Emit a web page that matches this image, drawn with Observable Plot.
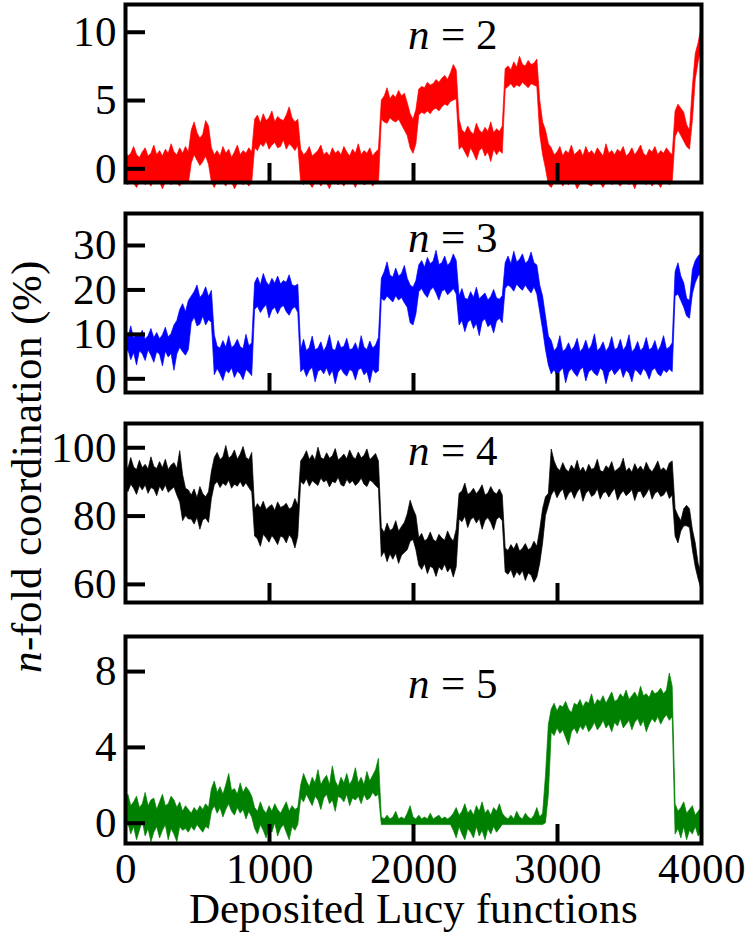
<!DOCTYPE html>
<html>
<head>
<meta charset="utf-8">
<script src="https://cdn.jsdelivr.net/npm/d3@7"></script>
<script src="https://cdn.jsdelivr.net/npm/@observablehq/plot@0.6"></script>
<style>
  @font-face { font-family: "FigSerif"; font-style: normal; font-weight: 400;
    src: local("Liberation Serif"), local("LiberationSerif"), local("Liberation Serif Regular"), local("DejaVu Serif"), local("DejaVuSerif"); }
  @font-face { font-family: "FigSerif"; font-style: italic; font-weight: 400;
    src: local("Liberation Serif Italic"), local("LiberationSerif-Italic"), local("DejaVu Serif Italic"), local("DejaVuSerif-Italic"); }
  body { margin: 0; background: #fff; }
  #chart { position: relative; width: 747px; height: 936px; overflow: hidden; }
  #chart svg { display: block; }
  #ylab { position: absolute; left: 0; top: 0; }
</style>
</head>
<body>
<div id="chart"></div>
<script>
// ---- data (envelope of the noisy trace every 20 deposited functions) ----
const xs = d3.range(0, 4001, 20);

const n2Hi = [
  1.3,0.9,1.1,1.6,1.0,0.8,1.2,1.5,0.9,1.1,1.7,1.0,1.3,0.9,1.4,1.1,1.8,1.2,1.0,1.5,1.1,1.6,1.2,
  2.8,3.4,2.6,2.2,2.5,3.5,3.1,
  1.5,1.0,1.3,0.9,1.6,1.1,1.4,0.8,1.2,1.7,1.0,1.3,1.1,1.5,1.2,
  3.6,3.9,3.3,4.0,3.5,3.7,4.2,3.4,3.8,3.6,3.5,3.9,4.5,3.7,3.4,3.6,
  1.4,1.0,1.2,1.6,0.9,1.1,1.3,1.7,1.0,1.2,0.9,1.5,1.1,1.3,1.0,1.6,1.2,0.9,1.4,1.1,1.8,1.0,1.3,1.1,1.5,0.9,1.2,1.4,
  5.0,5.3,5.9,5.1,5.4,5.2,5.7,5.3,5.5,4.8,
  4.0,3.6,4.3,
  5.8,6.0,5.9,6.3,6.1,6.2,6.5,6.3,6.6,6.8,6.5,7.0,7.6,7.2,
  3.6,2.8,2.6,3.1,2.7,2.5,3.3,2.8,2.6,3.0,2.7,3.4,2.6,2.9,2.7,3.1,
  7.3,7.5,7.2,7.8,7.4,8.2,7.6,7.5,7.9,7.6,7.7,8.0,
  5.0,3.4,2.8,1.8,
  1.5,1.0,1.2,1.6,0.9,1.3,1.1,1.7,1.0,1.2,1.4,0.9,1.6,1.1,1.3,1.0,1.5,1.2,0.9,1.8,1.1,1.3,1.0,1.4,1.2,1.6,0.9,1.1,1.5,1.0,1.3,1.7,1.1,0.9,1.4,1.2,1.6,1.0,1.3,1.1,1.5,1.2,1.0,
  4.2,4.7,4.4,4.1,
  3.2,2.8,
  6.0,8.4,9.2,10.3];
const n2Lo = [
  -1.0,-1.2,-0.9,-1.1,-1.4,-1.0,-0.9,-1.2,-1.0,-1.3,-0.9,-1.1,-1.0,-1.5,-1.0,-0.9,-1.2,-1.0,-1.1,-1.3,-0.9,-1.0,-1.1,
  0.4,1.0,0.6,0.2,0.5,0.9,0.3,
  -1.0,-1.4,-0.9,-1.1,-1.0,-1.3,-0.9,-1.0,-1.5,-1.1,-0.9,-1.2,-1.0,-1.3,-1.0,
  1.5,1.3,1.8,1.6,2.0,1.4,1.7,1.9,1.5,1.6,2.1,1.4,1.8,1.6,1.3,1.7,
  -1.0,-1.2,-0.9,-1.1,-1.4,-1.0,-0.9,-1.3,-1.0,-1.1,-1.5,-0.9,-1.0,-1.2,-1.0,-1.3,-0.9,-1.1,-1.0,-1.4,-0.9,-1.0,-1.2,-1.1,-0.9,-1.3,-1.0,-1.1,
  3.6,3.4,3.3,3.7,3.5,3.4,3.6,3.2,2.8,2.4,
  1.5,1.1,1.8,
  3.9,4.1,4.0,4.2,4.0,4.3,4.4,4.2,4.5,4.7,4.6,4.9,5.0,5.1,
  1.4,1.6,1.2,0.8,1.5,1.1,0.6,1.3,1.5,0.9,1.2,0.5,1.4,1.0,1.3,1.1,
  5.8,6.0,6.2,5.9,6.1,6.0,6.3,6.1,5.9,6.2,6.1,6.0,
  2.5,1.0,0.0,-1.2,
  -1.4,-1.0,-1.1,-0.9,-1.3,-1.0,-1.2,-0.9,-1.0,-1.5,-1.1,-0.9,-1.0,-1.2,-1.3,-0.9,-1.0,-1.1,-1.4,-1.0,-0.9,-1.2,-1.0,-1.1,-1.3,-0.9,-1.0,-1.2,-1.0,-1.5,-0.9,-1.1,-1.0,-1.2,-0.9,-1.3,-1.0,-1.1,-1.4,-0.9,-1.0,-1.2,-1.0,
  2.3,2.8,2.4,2.0,
  1.6,1.4,
  3.5,6.5,7.8,8.8];

const n3Hi = [
  10.5,9.2,11.8,9.0,10.0,9.4,10.8,8.8,9.6,11.2,9.1,10.3,8.9,9.8,11.5,9.3,10.1,12.0,
  13.0,15.5,16.8,15.0,17.5,
  18.5,19.5,21.0,18.2,19.0,20.6,18.4,19.8,
  9.8,7.2,6.8,8.5,7.0,9.6,6.9,7.5,8.8,7.1,6.7,9.9,7.3,8.0,
  21.5,22.8,21.0,23.6,21.8,20.9,22.5,21.4,23.0,21.2,22.0,21.6,23.3,21.0,20.8,21.2,
  6.5,8.8,6.2,7.0,9.5,6.4,6.8,8.2,6.1,7.4,9.8,6.6,6.3,8.5,6.9,7.2,9.0,6.4,6.7,8.0,6.2,9.6,7.0,6.5,8.4,6.8,7.5,9.2,
  22.5,24.0,26.2,23.2,22.8,24.8,23.0,23.6,25.4,22.5,
  21.0,20.5,22.0,
  25.5,26.5,25.0,27.2,25.8,26.4,28.8,25.6,26.0,27.5,25.4,26.2,28.0,26.5,
  18.5,20.2,18.0,17.8,19.5,18.2,20.5,17.9,18.6,19.2,17.6,18.4,20.0,18.1,17.8,18.6,
  26.0,27.5,25.8,28.6,26.2,26.8,28.0,25.9,26.5,28.4,26.0,25.5,
  21.0,18.5,14.0,9.5,
  8.5,6.2,7.0,9.6,6.1,6.6,8.0,6.3,7.2,9.0,6.0,6.8,8.6,6.4,7.5,10.0,6.2,6.9,8.2,6.1,7.1,9.4,6.5,6.8,8.8,6.3,7.3,9.8,6.0,6.7,8.3,6.2,7.0,9.2,6.4,6.9,8.5,6.1,7.4,9.6,6.6,7.0,8.0,
  24.0,26.0,23.0,21.5,
  18.0,17.5,
  24.5,26.5,27.5,28.2];
const n3Lo = [
  5.0,6.5,4.2,5.8,3.0,6.2,5.5,4.0,6.4,5.2,3.6,6.0,5.4,2.8,6.1,4.8,5.6,1.8,
  5.5,7.0,6.0,5.2,6.5,
  12.5,13.8,11.8,12.2,14.0,12.0,13.2,12.6,
  0.8,2.2,1.0,-0.5,1.8,1.2,2.4,0.2,1.6,1.0,-0.3,2.0,1.4,0.6,
  15.5,16.2,14.8,15.8,16.6,13.6,15.4,16.0,14.5,15.9,16.4,15.0,14.2,15.6,16.1,14.8,
  1.5,2.2,0.4,1.8,2.5,-0.8,1.6,2.0,1.0,2.4,0.6,1.8,-1.2,1.4,2.2,1.1,0.5,2.0,1.6,-0.4,1.9,2.3,0.8,1.5,-1.0,2.1,1.2,1.7,
  18.0,17.5,18.5,17.8,17.2,18.6,17.6,18.2,17.0,16.0,
  12.5,12.0,14.5,
  19.5,20.2,19.0,18.2,19.8,20.5,19.2,17.6,19.6,20.0,18.8,19.4,20.2,19.0,
  12.0,13.0,10.5,12.6,13.2,11.2,12.4,9.6,12.8,13.4,11.6,12.2,10.2,12.9,13.5,12.5,
  20.2,21.0,20.5,19.6,21.2,20.4,19.8,21.0,20.0,19.2,20.6,19.0,
  15.0,11.0,6.5,3.0,
  1.0,2.0,0.5,1.6,2.4,-1.0,1.4,2.2,1.2,0.4,1.9,2.5,-0.6,1.5,2.0,1.1,0.6,2.3,1.7,-1.2,1.3,2.1,0.8,1.6,2.4,0.2,1.8,1.2,-0.8,2.0,1.5,0.7,2.2,1.4,-0.2,1.8,2.3,1.0,0.5,1.9,1.3,2.1,1.5,
  18.5,19.0,17.5,16.0,
  14.0,13.5,
  19.0,21.5,23.0,23.8];

const n4Hi = [
  95.5,93.8,97.0,94.2,93.5,96.2,94.0,95.0,93.6,97.2,94.4,93.8,95.8,94.0,96.5,93.5,94.8,95.5,93.8,99.0,92.0,88.0,87.5,
  86.0,87.8,85.2,88.5,86.4,85.5,87.0,
  93.0,97.0,98.5,96.4,97.2,100.5,96.8,97.5,99.2,96.5,98.0,100.2,97.0,96.4,98.5,
  82.0,83.5,82.2,84.2,81.8,82.6,83.2,81.5,84.0,82.4,82.8,83.6,81.9,82.5,85.0,83.0,
  96.0,97.2,99.0,96.4,97.8,96.2,100.0,97.0,96.5,98.4,96.8,97.5,99.6,96.3,97.0,98.0,96.6,99.2,97.4,96.5,98.6,96.9,97.6,99.5,96.4,97.2,98.2,96.0,
  76.5,75.0,77.8,75.6,76.2,78.5,75.4,76.8,78.0,80.5,
  84.5,82.0,80.0,
  73.5,74.8,72.6,73.2,75.2,73.0,72.4,74.5,73.4,72.8,75.5,73.6,72.5,76.0,
  86.5,87.2,89.5,86.2,86.8,88.0,86.4,87.5,89.0,86.0,86.6,88.5,86.9,86.3,87.8,86.0,
  70.5,69.8,71.5,70.2,72.0,69.6,70.4,71.8,70.0,70.6,72.5,71.0,
  76.0,82.0,85.5,86.5,
  99.5,96.0,94.0,93.2,95.5,93.6,92.8,94.8,93.4,96.2,93.0,94.2,92.6,95.0,93.5,94.0,96.5,93.2,92.8,94.6,93.8,95.8,92.9,93.6,94.4,96.8,93.0,94.0,92.7,95.2,93.4,94.5,93.1,95.6,93.8,92.8,94.2,96.0,93.3,94.0,93.0,95.4,96.0,
  82.0,80.0,78.5,82.0,
  83.0,82.0,
  76.0,72.0,66.0,63.5];
const n4Lo = [
  88.5,87.0,89.2,88.0,86.2,88.8,87.5,89.0,86.5,88.2,87.8,85.8,88.6,87.2,89.0,86.8,87.6,88.4,86.0,84.0,78.5,80.0,79.0,
  79.0,77.5,79.5,76.0,78.8,79.2,78.0,
  85.0,89.0,90.0,88.2,89.5,88.8,90.4,88.0,89.2,88.6,90.0,88.4,89.6,88.2,87.0,
  74.0,73.2,71.0,74.5,73.5,72.2,74.2,73.0,71.5,74.0,73.6,72.0,74.4,73.2,70.5,74.0,
  90.0,89.2,90.8,88.6,90.2,89.5,88.8,91.0,89.8,90.4,88.4,90.0,89.6,91.2,89.0,88.6,90.6,89.4,90.2,88.8,89.6,91.0,89.2,88.5,90.4,89.8,88.8,88.0,
  68.0,69.5,66.5,68.8,67.2,69.0,66.0,68.4,69.2,70.0,
  72.5,73.0,70.0,
  65.5,64.2,66.0,63.0,65.2,64.6,62.2,65.0,64.0,65.8,63.5,64.8,62.0,65.0,
  79.0,78.2,79.8,76.5,78.8,79.5,77.8,79.2,76.0,78.6,79.4,78.0,75.8,78.9,79.6,78.5,
  63.5,62.8,64.2,61.8,63.6,62.5,63.9,61.0,63.2,62.6,60.5,62.0,
  66.0,72.0,80.0,83.0,
  86.0,87.5,85.2,86.8,87.8,84.6,86.4,87.2,85.0,86.9,88.0,84.2,86.5,87.4,85.6,86.2,87.9,84.8,86.6,87.0,85.4,86.8,88.0,84.5,86.2,87.3,85.8,86.6,87.6,84.4,86.9,87.2,85.2,86.4,88.0,84.8,86.5,87.1,85.6,86.0,87.4,85.0,86.0,
  74.0,72.0,75.5,77.0,
  77.0,76.5,
  70.0,65.0,61.5,58.5];

const n5Hi = [
  1.2,1.5,0.9,1.1,1.4,0.8,1.0,1.6,0.9,1.2,1.3,0.7,1.1,1.5,0.9,1.0,1.4,1.2,0.8,1.1,0.6,0.9,0.7,0.5,0.8,0.6,0.9,0.7,1.0,0.8,
  1.8,2.2,1.6,1.9,1.5,2.0,2.6,1.7,1.8,1.5,2.1,1.6,1.9,1.7,1.4,
  0.8,0.6,1.1,0.7,0.5,0.9,0.6,1.0,0.7,0.5,0.8,1.1,0.6,0.9,0.7,0.8,
  2.0,2.6,2.2,1.9,2.4,2.1,2.8,2.0,2.3,2.5,2.0,3.0,2.2,1.9,2.4,2.1,2.6,2.0,2.3,2.9,2.1,2.4,2.0,2.7,2.2,2.5,2.8,3.4,
  0.3,0.2,0.4,0.2,0.3,0.6,0.2,0.3,0.2,0.5,0.9,0.3,0.2,0.4,0.2,0.3,0.2,0.5,0.2,0.3,0.4,0.2,0.3,0.2,0.3,
  0.5,0.8,0.4,0.6,1.0,0.5,0.7,0.4,0.9,0.6,1.1,0.5,0.7,0.4,0.8,0.6,1.0,0.5,
  0.3,0.2,0.4,0.2,0.6,0.3,0.2,0.5,0.3,0.2,0.4,0.8,0.3,0.5,
  2.5,5.2,
  6.0,6.3,5.9,6.2,6.1,6.4,6.0,5.8,6.3,6.2,6.5,6.1,6.4,6.3,6.8,6.2,6.5,6.4,6.7,6.3,6.6,6.9,6.4,6.5,6.8,6.6,7.0,6.5,6.7,6.9,6.6,7.2,6.7,6.8,6.6,7.0,6.8,6.9,7.1,6.8,7.0,7.9,7.2,
  1.0,0.6,0.8,1.1,0.5,0.7,0.9,0.4,0.6,0.8];
const n5Lo = [
  -0.3,0.0,-0.6,-0.2,-0.9,-0.4,0.1,-0.7,-0.3,-1.0,-0.5,-0.2,-0.8,-0.4,-0.1,-0.9,-0.3,-0.6,-1.0,-0.2,-0.4,-0.3,-0.5,-0.2,-0.4,-0.1,-0.3,-0.5,-0.2,-0.3,
  0.6,0.9,0.5,0.8,0.3,0.7,1.0,0.6,0.4,0.8,0.5,0.7,0.2,0.6,0.3,
  -0.3,-0.6,-0.1,-0.4,-0.8,-0.2,-0.5,0.0,-0.7,-0.3,-0.1,-0.5,-0.9,-0.2,-0.4,-0.1,
  1.3,1.1,1.5,1.2,0.9,1.4,1.2,0.7,1.3,1.5,1.0,1.2,0.6,1.4,1.3,1.1,1.5,0.9,1.3,1.2,1.4,1.0,1.5,1.2,1.3,1.6,1.4,1.5,
  -0.1,-0.1,-0.1,-0.1,-0.1,-0.1,-0.1,-0.1,-0.1,-0.1,-0.1,-0.1,-0.1,-0.1,-0.1,-0.1,-0.1,-0.1,-0.1,-0.1,-0.1,-0.1,-0.1,-0.1,-0.1,
  -0.4,-0.8,-0.2,-0.6,-0.9,-0.3,-0.5,-0.8,-0.2,-0.7,-0.4,-0.9,-0.3,-0.6,-0.2,-0.5,-0.3,-0.1,
  -0.1,-0.1,-0.1,-0.1,-0.1,-0.1,-0.1,-0.1,-0.1,-0.1,-0.1,-0.1,-0.1,-0.1,
  0.0,1.5,
  4.8,4.6,5.0,4.7,4.9,4.5,4.1,4.8,5.0,4.7,5.1,4.9,5.2,4.8,5.0,5.3,4.9,5.1,5.4,5.0,5.2,4.8,5.3,5.1,5.5,5.0,5.2,5.4,4.9,5.3,5.5,5.1,5.4,4.8,5.2,5.5,5.3,5.6,5.2,5.5,5.7,5.4,5.6,
  -0.6,-0.3,-0.8,-0.2,-0.9,-0.4,-0.6,-0.2,-0.7,-0.5];

const nValues = [2, 3, 4, 5];
const xTickLabels = [0, 1000, 2000, 3000, 4000];
const xInnerTicks = [1000, 2000, 3000];
const yTicks2 = [0, 5, 10];
const yTicks3 = [0, 10, 20, 30];
const yTicks4 = [60, 80, 100];
const yTicks5 = [0, 4, 8];
const xTitle = "Deposited Lucy functions";
const yTitleRest = "-fold coordination (%)";

// sanity check on the hand-entered series
const series = {n2Hi, n2Lo, n3Hi, n3Lo, n4Hi, n4Lo, n5Hi, n5Lo};
const bad = Object.entries(series).filter(([k, v]) => v.length !== xs.length).map(([k, v]) => `${k}:${v.length}`);
if (bad.length) throw new Error("length mismatch (" + xs.length + "): " + bad.join(", "));

// ---- layout ----
const FONT = "FigSerif, 'Liberation Serif', 'DejaVu Serif', 'Times New Roman', serif";
const W = 747, ML = 125, MR = 46;
const panels = [
  {hi: n2Hi, lo: n2Lo, ticks: yTicks2, domain: [-1.0, 12.03], color: "#ff0000", n: nValues[0], h: 197, mt: 4,  mb: 15, ldy: 44},
  {hi: n3Hi, lo: n3Lo, ticks: yTicks3, domain: [-3.08, 37.2], color: "#0000ff", n: nValues[1], h: 210, mt: 16, mb: 15, ldy: 38},
  {hi: n4Hi, lo: n4Lo, ticks: yTicks4, domain: [54.7, 107.1], color: "#000000", n: nValues[2], h: 211, mt: 16, mb: 16, ldy: 41},
  {hi: n5Hi, lo: n5Lo, ticks: yTicks5, domain: [-1.07, 9.85], color: "#008000", n: nValues[3], h: 318, mt: 18, mb: 93, ldy: 61}
];

const chart = document.getElementById("chart");

panels.forEach((p, k) => {
  const isBottom = k === panels.length - 1;
  const rows = xs.map((x, i) => ({x, hi: p.hi[i], lo: p.lo[i]}));
  const innerW = W - ML - MR;
  const innerH = p.h - p.mt - p.mb;
  const label = `n = ${p.n}`;
  const marks = [
    Plot.areaY(rows, {x: "x", y1: "lo", y2: "hi", fill: p.color, stroke: p.color, strokeWidth: 0.7}),
    Plot.tickY(p.ticks, {y: d => d, stroke: "black", strokeWidth: 4, insetRight: innerW - 20}),
    Plot.tickX(xInnerTicks, {x: d => d, stroke: "black", strokeWidth: 4, insetTop: innerH - 19}),
    Plot.frame({stroke: "black", strokeWidth: 4}),
    Plot.axisY({ticks: p.ticks, tickSize: 0, tickPadding: 9, fontSize: 43, fontFamily: FONT, label: null, tickFormat: d => String(d)}),
    Plot.text([label], {frameAnchor: "top", dx: 39.5, dy: p.ldy, lineAnchor: "bottom", textAnchor: "middle", fontSize: 43, fontFamily: FONT})
  ];
  if (isBottom) {
    marks.push(Plot.axisX({ticks: xTickLabels, tickSize: 0, tickPadding: 9, fontSize: 43, fontFamily: FONT, label: null, tickFormat: d => String(d)}));
    marks.push(Plot.text([xTitle], {frameAnchor: "bottom", dy: 79.5, lineAnchor: "bottom", fontSize: 43, fontFamily: FONT}));
  }
  const svg = Plot.plot({
    width: W, height: p.h,
    marginLeft: ML, marginRight: MR, marginTop: p.mt, marginBottom: p.mb,
    x: isBottom ? {domain: [0, 4000]} : {domain: [0, 4000], axis: null},
    y: {domain: p.domain},
    style: {fontFamily: FONT, fontSize: "43px", background: "white", color: "black"},
    marks
  });
  d3.select(svg).selectAll("text").filter(function() { return this.textContent === label; }).each(function() {
    const t = d3.select(this);
    t.text(null);
    t.append("tspan").attr("font-style", "italic").text("n");
    t.append("tspan").text(` = ${p.n}`);
  });
  chart.appendChild(svg);
});

// rotated y-axis title spanning all panels
const ylab = d3.select(chart).append("svg").attr("id", "ylab").attr("width", 70).attr("height", 936);
const yt = ylab.append("text")
  .attr("transform", "translate(41,467) rotate(-90)")
  .attr("text-anchor", "middle")
  .style("font-family", FONT).style("font-size", "43px").attr("fill", "black");
yt.append("tspan").attr("font-style", "italic").text("n");
yt.append("tspan").text(yTitleRest);
</script>
</body>
</html>
